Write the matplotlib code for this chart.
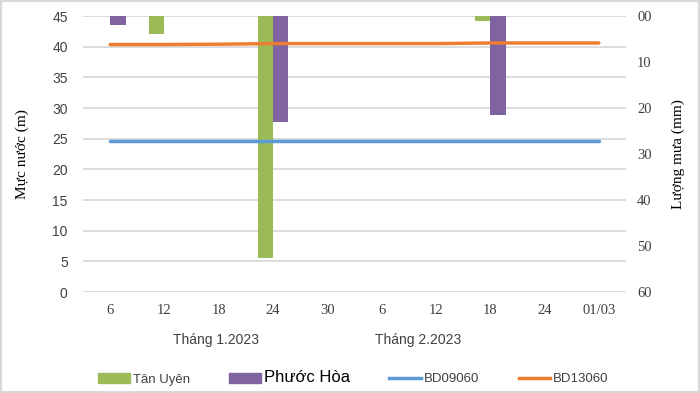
import numpy as np
import matplotlib
matplotlib.use("Agg")
import matplotlib.pyplot as plt
from matplotlib.patches import Rectangle, Patch
from matplotlib.lines import Line2D

# x axis: tick labels every 6 days (Jan 6 ... Mar 1)
tick_labels = ["6", "12", "18", "24", "30", "6", "12", "18", "24", "01/03"]
tick_pos = np.arange(len(tick_labels)) * 6

# water level (m), read at each tick
bd09060 = [24.7, 24.7, 24.7, 24.7, 24.7, 24.7, 24.7, 24.7, 24.7, 24.7]
bd13060 = [40.35, 40.35, 40.4, 40.5, 40.5, 40.5, 40.5, 40.6, 40.6, 40.6]

# rainfall (mm) on the days with rain, index into tick_pos
rain_idx = [0, 1, 3, 7]
tan_uyen = [0, 4, 52.5, 1]
phuoc_hoa = [2, 0, 23, 21.5]

C_TU = "#9BBB59"
C_PH = "#8064A2"
C_B = "#5B9BD5"
C_O = "#ED7D31"
GRID = "#d9d9d9"

serif = "Liberation Serif"
sans = "Liberation Sans"

fig = plt.figure(figsize=(7, 3.93), dpi=100)
ax = fig.add_axes([83 / 700, 1 - 292 / 393, 543 / 700, 276 / 393])

# left axis: water level, carries the grid
ax.set_xlim(-3, 57)
ax.set_ylim(0, 45)
ax.set_yticks(np.arange(0, 46, 5))
ax.yaxis.grid(True, color=GRID, lw=1.3)
ax.set_axisbelow(True)
ax.set_xticks(tick_pos)
ax.set_xticklabels(tick_labels, fontfamily=serif, fontsize=10.5)
for lab in ax.get_yticklabels():
    lab.set_fontfamily(sans)
    lab.set_fontsize(10)
ax.tick_params(axis="y", length=0, pad=11, colors="#404040")
ax.tick_params(axis="x", length=0, pad=9, colors="#404040")
for s in ax.spines.values():
    s.set_visible(False)
ax.set_ylabel("Mực nước (m)", fontfamily=serif, fontsize=11)
ax.yaxis.set_label_coords(-0.100, 0.5)

# right axis: rainfall, inverted
ax2 = ax.twinx()
ax2.set_ylim(60, 0)
ax2.set_yticks(np.arange(0, 61, 10))
ax2.set_yticklabels(["00", "10", "20", "30", "40", "50", "60"],
                    fontfamily=serif, fontsize=10.5)
ax2.tick_params(axis="y", length=0, pad=8, colors="#404040")
for s in ax2.spines.values():
    s.set_visible(False)
ax2.set_ylabel("Lượng mưa (mm)", fontfamily=serif, fontsize=11, rotation=90)
ax2.yaxis.set_label_coords(1.084, 0.5)

w = 1.7
xr = tick_pos[rain_idx]
ax2.bar(xr - w / 2, tan_uyen, width=w, color=C_TU)
ax2.bar(xr + w / 2, phuoc_hoa, width=w, color=C_PH)

# third layer for the lines so they sit above the bars
ax3 = ax.twinx()
ax3.set_ylim(0, 45)
ax3.axis("off")
ax3.plot(tick_pos, bd09060, color=C_B, lw=2.5, solid_capstyle="round")
ax3.plot(tick_pos, bd13060, color=C_O, lw=2.5, solid_capstyle="round")

fig.text(216 / 700, 1 - 340 / 393, "Tháng 1.2023", ha="center", va="center",
         fontfamily=sans, fontsize=10, color="#404040")
fig.text(418 / 700, 1 - 340 / 393, "Tháng 2.2023", ha="center", va="center",
         fontfamily=sans, fontsize=10, color="#404040")

handles = [Patch(color=C_TU), Patch(color=C_PH),
           Line2D([], [], color=C_B, lw=2.5), Line2D([], [], color=C_O, lw=2.5)]
leg = fig.legend(handles, ["Tân Uyên", "Phước Hòa", "BD09060", "BD13060"],
                 loc="center", bbox_to_anchor=(0.505, 1 - 378 / 393), ncol=4,
                 frameon=False, prop={"family": sans, "size": 9.5},
                 handlelength=2.4, handleheight=0.8, handletextpad=0.2,
                 columnspacing=3.0)
for t in leg.get_texts():
    t.set_color("#404040")
leg.get_texts()[1].set_fontsize(12)
leg.get_texts()[1].set_color("black")

fig.patches.append(Rectangle((0.002, 0.003), 0.996, 0.994, transform=fig.transFigure,
                             fill=False, edgecolor=GRID, lw=1.5))

fig.savefig("out.png", dpi=100)
